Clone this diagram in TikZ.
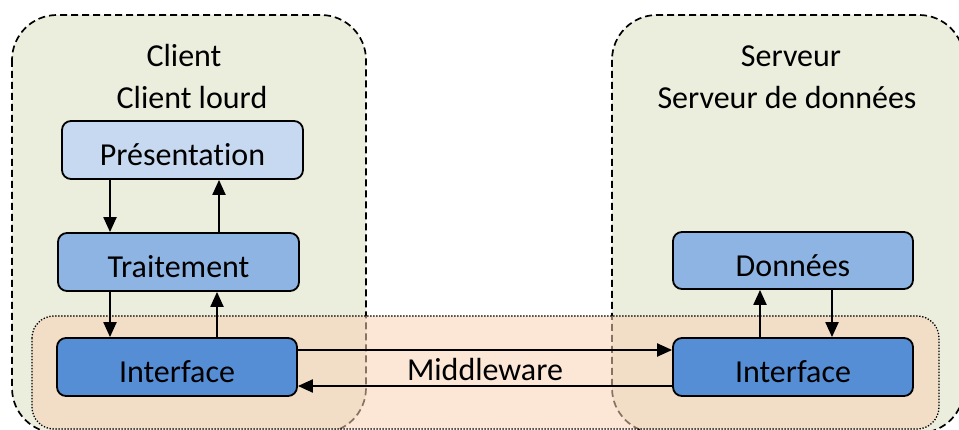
\documentclass[tikz,border=0pt]{standalone}
\usepackage{fontspec}
\setmainfont{Carlito}[Ligatures=NoCommon]
\usetikzlibrary{arrows.meta}
\definecolor{contgreen}{RGB}{235,238,221}
\definecolor{bandorange}{RGB}{249,210,181}
\definecolor{blueA}{RGB}{198,217,240}
\definecolor{blueB}{RGB}{142,180,227}
\definecolor{blueC}{RGB}{85,142,213}
\tikzset{
  container/.style={draw=black, line width=1.7pt, dash pattern=on 7pt off 4pt, fill=contgreen, rounded corners=45pt},
  band/.style={draw=black, line width=1.3pt, dash pattern=on 1.3pt off 1.7pt, rounded corners=22pt, fill=bandorange, fill opacity=0.55},
  lbl/.style={font=\fontsize{32}{38}\selectfont, inner sep=0pt},
  layerbox/.style={lbl, draw=black, line width=1.8pt, rounded corners=9pt, minimum width=240pt, minimum height=58pt, text height=32pt, text depth=0pt},
  arr/.style={line width=2.1pt, -{Triangle[length=15pt,width=13pt]}}
}
\begin{document}
\begin{tikzpicture}[x=1pt,y=-1pt]
\useasboundingbox (0,0) rectangle (959,430);
\clip (0,0) rectangle (959,430);
% containers
\draw[container] (12,15) rectangle (366,433);
\draw[container] (612,15) rectangle (964,433);
% middleware band
\draw[band] (32,316) rectangle (939,429);
% titles
\node[lbl] (tclient) at (184,56) {Client};
\node[lbl] (tlourd) at (192,98) {Client lourd};
\node[lbl] (tserv) at (791,56) {Serveur};
\node[lbl] (tdonn) at (787,98) {Serveur de données};
% layer boxes
\node[layerbox, fill=blueA, minimum width=241pt] (pres) at (182.5,150) {Présentation};
\node[layerbox, fill=blueB, minimum width=241pt] (trait) at (178.5,262) {Traitement};
\node[layerbox, fill=blueC] (ifl) at (177,367) {Interface};
\node[layerbox, fill=blueB, minimum height=57pt] (donn) at (793,260.5) {Données};
\node[layerbox, fill=blueC] (ifr) at (793,367) {Interface};
% client arrows
\draw[arr] ([xshift=-72.5pt]pres.south) -- ([xshift=-72.5pt]pres.south |- trait.north);
\draw[arr] ([xshift=40.5pt]trait.north) -- ([xshift=40.5pt]trait.north |- pres.south);
\draw[arr] ([xshift=-68.5pt]trait.south) -- ([xshift=-68.5pt]trait.south |- ifl.north);
\draw[arr] ([xshift=40pt]ifl.north) -- ([xshift=40pt]ifl.north |- trait.south);
% server arrows
\draw[arr] ([xshift=-33pt]ifr.north) -- ([xshift=-33pt]ifr.north |- donn.south);
\draw[arr] ([xshift=39pt]donn.south) -- ([xshift=39pt]donn.south |- ifr.north);
% middleware arrows
\draw[arr] ([yshift=17pt]ifl.east) -- ([yshift=17pt]ifl.east -| ifr.west);
\draw[arr] ([yshift=-19pt]ifr.west) -- ([yshift=-19pt]ifr.west -| ifl.east);
\node[lbl] (mw) at (485,370) {Middleware};
\end{tikzpicture}
\end{document}
